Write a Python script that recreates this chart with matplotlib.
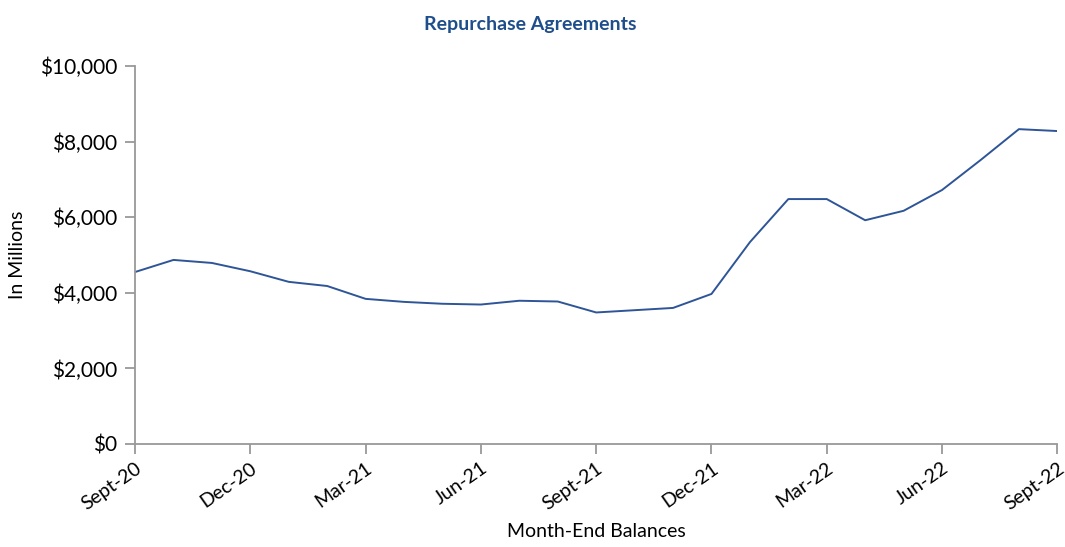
import matplotlib.pyplot as plt
from matplotlib.ticker import FuncFormatter

plt.rcParams['font.family'] = ['Lato', 'DejaVu Sans']

months = ["Sept-20", "Oct-20", "Nov-20", "Dec-20", "Jan-21", "Feb-21", "Mar-21",
          "Apr-21", "May-21", "Jun-21", "Jul-21", "Aug-21", "Sept-21", "Oct-21",
          "Nov-21", "Dec-21", "Jan-22", "Feb-22", "Mar-22", "Apr-22", "May-22",
          "Jun-22", "Jul-22", "Aug-22", "Sept-22"]
balances = [4550, 4870, 4790, 4570, 4290, 4180, 3840, 3760, 3710, 3690, 3790,
            3770, 3480, 3540, 3600, 3970, 5340, 6480, 6480, 5920, 6170, 6720,
            7510, 8330, 8280]
tick_labels = ["Sept-20", "Dec-20", "Mar-21", "Jun-21", "Sept-21", "Dec-21",
               "Mar-22", "Jun-22", "Sept-22"]

fig = plt.figure(figsize=(10.65, 5.47), dpi=100)
ax = fig.add_axes([0.1268, 0.1883, 0.866, 0.691])

x = list(range(len(months)))
ax.plot(x, balances, color="#2E5597", linewidth=1.4)

ax.set_xlim(0, len(months) - 1)
ax.set_ylim(0, 10000)
ax.set_yticks(range(0, 10001, 2000))
ax.yaxis.set_major_formatter(FuncFormatter(lambda v, p: f"${v:,.0f}"))

ticks = [months.index(m) for m in tick_labels]
ax.set_xticks(ticks)
ax.set_xticklabels(tick_labels, rotation=35, ha="right", rotation_mode="anchor")

for s in ["top", "right"]:
    ax.spines[s].set_visible(False)
for s in ["left", "bottom"]:
    ax.spines[s].set_color("#999999")
    ax.spines[s].set_linewidth(1.3)
ax.tick_params(axis="both", colors="#999999", length=7, width=1.3, labelcolor="black")
ax.tick_params(axis="y", labelsize=15, pad=6)
ax.tick_params(axis="x", labelsize=14, pad=4)

ax.set_ylabel("In Millions", fontsize=14, labelpad=10)
fig.text(0.56, 0.018, "Month-End Balances", ha="center", fontsize=14)
fig.text(0.498, 0.955, "Repurchase Agreements", ha="center", va="center",
         fontsize=14, fontweight="bold", color="#1F4E8C")

fig.savefig("out.png", dpi=100)
